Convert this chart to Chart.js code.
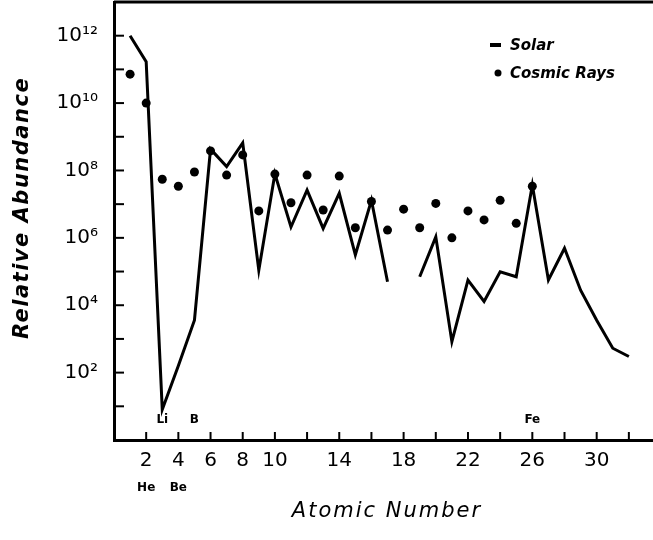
<!DOCTYPE html>
<html>
<head>
<meta charset="utf-8">
<script src="https://cdn.jsdelivr.net/npm/chart.js@4/dist/chart.umd.min.js"></script>
<style>
    html, body { margin: 0; padding: 0; background: #fff; }
    #wrap { width: 653px; height: 540px; }
</style>
</head>
<body>
<div id="wrap"><canvas id="chart"></canvas></div>
<script>
// atomic numbers 1..32
const atomicNumber = [1, 2, 3, 4, 5, 6, 7, 8, 9, 10, 11, 12, 13, 14, 15, 16,
    17, 18, 19, 20, 21, 22, 23, 24, 25, 26, 27, 28, 29, 30, 31, 32];

// solar system abundance (no value for Z=18)
const solar = [1e12, 1.7e11, 8, 160, 3.6e3, 4.3e8, 1.3e8, 6.6e8, 1.1e5, 8e7, 2.1e6, 2.6e7,
    1.9e6, 2.1e7, 3.1e5, 1.3e7, 5e4, null, 7e4, 1.07e6, 830, 5.6e4, 1.3e4, 9.8e4,
    7e4, 3.7e7, 5.6e4, 4.9e5, 2.8e4, 3.6e3, 530, 300];

// cosmic ray abundance, Z = 1..26
const cosmicRays = [7.2e10, 1e10, 5.5e7, 3.4e7, 9e7, 3.8e8, 7.3e7, 2.9e8, 6.3e6, 7.8e7,
    1.1e7, 7.3e7, 6.7e6, 6.8e7, 2e6, 1.2e7, 1.7e6, 7.1e6, 2e6, 1.05e7, 1e6, 6.3e6,
    3.4e6, 1.3e7, 2.7e6, 3.4e7];

const xTickValues = [2, 4, 6, 8, 10, 12, 14, 16, 18, 20, 22, 24, 26, 28, 30, 32];
const xTickLabels = ['2', '4', '6', '8', '10', '', '14', '', '18', '', '22', '', '26', '', '30', ''];

const yTickValues = [1e1, 1e2, 1e3, 1e4, 1e5, 1e6, 1e7, 1e8, 1e9, 1e10, 1e11, 1e12];
const yTickLabels = ['', '10²', '', '10⁴', '', '10⁶', '', '10⁸', '', '10¹⁰', '', '10¹²'];

// element symbols written next to the axis
const symbolsBelow = ['He', 'Be'];
const symbolsBelowZ = [2, 4];
const symbolsAbove = ['Li', 'B', 'Fe'];
const symbolsAboveZ = [3, 5, 26];

const xTitle = 'Atomic Number';
const yTitle = 'Relative Abundance';

const ink = '#000';

// keep the plot box where the picture has it
const noPad = s => { s.paddingTop = 0; s.paddingBottom = 0; s.paddingLeft = 0; s.paddingRight = 0; };

const framePlugin = {
    id: 'frame',
    afterDraw(chart) {
        const ctx = chart.ctx;
        const area = chart.chartArea;
        const xs = chart.scales.x;
        const ys = chart.scales.y;
        ctx.save();
        ctx.strokeStyle = ink;
        // top border
        ctx.lineWidth = 3;
        ctx.beginPath();
        ctx.moveTo(area.left, area.top);
        ctx.lineTo(area.right, area.top);
        ctx.stroke();
        // inward tick marks
        ctx.lineWidth = 2;
        xTickValues.forEach(v => {
            const px = xs.getPixelForValue(v);
            ctx.beginPath();
            ctx.moveTo(px, area.bottom);
            ctx.lineTo(px, area.bottom - 8);
            ctx.stroke();
        });
        yTickValues.forEach(v => {
            const py = ys.getPixelForValue(v);
            ctx.beginPath();
            ctx.moveTo(area.left, py);
            ctx.lineTo(area.left + 10, py);
            ctx.stroke();
        });
        // element symbols
        ctx.fillStyle = ink;
        ctx.textAlign = 'center';
        ctx.textBaseline = 'middle';
        ctx.font = 'bold 12px "DejaVu Sans"';
        symbolsBelow.forEach((s, i) => {
            ctx.fillText(s, xs.getPixelForValue(symbolsBelowZ[i]), 488);
        });
        symbolsAbove.forEach((s, i) => {
            ctx.fillText(s, xs.getPixelForValue(symbolsAboveZ[i]), area.bottom - 20);
        });
        // axis titles, letter-spaced like the original
        ctx.letterSpacing = '2px';
        ctx.font = 'italic 21px "DejaVu Sans"';
        ctx.fillText(xTitle, 387, 512);
        ctx.save();
        ctx.translate(23, 208);
        ctx.rotate(-Math.PI / 2);
        ctx.letterSpacing = '1.5px';
        ctx.font = 'bold italic 21px "DejaVu Sans"';
        ctx.fillText(yTitle, 0, 0);
        ctx.restore();
        ctx.letterSpacing = '0px';
        // legend
        const ds = chart.data.datasets;
        ctx.textAlign = 'left';
        ctx.font = 'bold italic 15px "DejaVu Sans"';
        ctx.lineWidth = 4;
        ctx.beginPath();
        ctx.moveTo(490, 45);
        ctx.lineTo(501, 45);
        ctx.stroke();
        ctx.fillText(ds[0].label, 510, 46);
        ctx.beginPath();
        ctx.arc(498, 73, 3.5, 0, Math.PI * 2);
        ctx.fill();
        ctx.fillText(ds[1].label, 510, 74);
        ctx.restore();
    }
};

const ctx = document.getElementById('chart').getContext('2d');
new Chart(ctx, {
    type: 'line',
    data: {
        datasets: [{
            label: 'Solar',
            data: atomicNumber.map((z, i) => ({ x: z, y: solar[i] })),
            borderColor: ink,
            borderWidth: 3,
            pointRadius: 0,
            spanGaps: false,
            tension: 0
        }, {
            label: 'Cosmic Rays',
            data: cosmicRays.map((v, i) => ({ x: atomicNumber[i], y: v })),
            showLine: false,
            pointRadius: 4.5,
            pointBackgroundColor: ink,
            pointBorderWidth: 0
        }]
    },
    options: {
        responsive: true,
        maintainAspectRatio: false,
        animation: false,
        devicePixelRatio: 1,
        layout: { autoPadding: false, padding: { top: 2, right: 0, bottom: 0, left: 0 } },
        plugins: {
            legend: { display: false },
            tooltip: { enabled: false }
        },
        scales: {
            x: {
                type: 'linear',
                min: 0,
                max: 33.5,
                afterFit: s => { s.height = 100; noPad(s); },
                afterBuildTicks: s => { s.ticks = xTickValues.map(v => ({ value: v })); },
                grid: { display: false, drawTicks: false },
                border: { display: true, color: ink, width: 3 },
                ticks: {
                    autoSkip: false,
                    maxRotation: 0,
                    padding: 9,
                    color: ink,
                    font: { family: '"DejaVu Sans"', size: 20 },
                    callback: (v) => xTickLabels[xTickValues.indexOf(v)]
                }
            },
            y: {
                type: 'logarithmic',
                min: 1,
                max: 1e13,
                afterFit: s => { s.width = 114; noPad(s); },
                afterBuildTicks: s => { s.ticks = yTickValues.map(v => ({ value: v })); },
                grid: { display: false, drawTicks: false },
                border: { display: true, color: ink, width: 3 },
                ticks: {
                    autoSkip: false,
                    padding: 16,
                    color: ink,
                    font: { family: '"DejaVu Sans"', size: 20 },
                    callback: (v) => yTickLabels[yTickValues.indexOf(v)]
                }
            }
        }
    },
    plugins: [framePlugin]
});
</script>
</body>
</html>
